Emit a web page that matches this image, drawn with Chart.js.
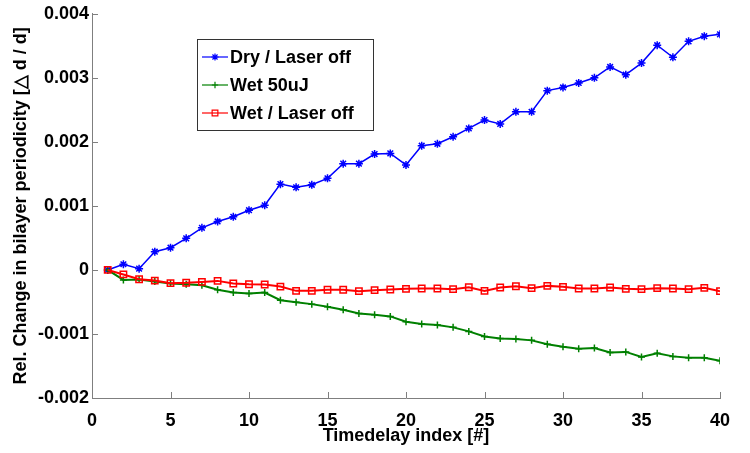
<!DOCTYPE html>
<html lang="en">
<head>
    <meta charset="UTF-8">
    <title>Bilayer periodicity</title>
    <style>
        body{
            margin: 0;
            background-color: #fff;
        }
        .wrap{
            width: 750px;
            height: 453px;
        }
    </style>
</head>
<body>
    <div class="wrap">
        <canvas id="chart" width="750" height="453"></canvas>
    </div>

    <script src="https://cdn.jsdelivr.net/npm/chart.js"></script>

    <script>
        // Timedelay index
        const timedelay = [1, 2, 3, 4, 5, 6, 7, 8, 9, 10, 11, 12, 13, 14, 15, 16, 17, 18, 19, 20,
                           21, 22, 23, 24, 25, 26, 27, 28, 29, 30, 31, 32, 33, 34, 35, 36, 37, 38, 39, 40];

        const dryLaserOff = [0, 0.000089, 0.00002, 0.000285, 0.000347, 0.000493, 0.000658, 0.000757, 0.00083, 0.000933,
                             0.00101, 0.00134, 0.00129, 0.00133, 0.00143, 0.00166, 0.00166, 0.00181, 0.00182, 0.00164,
                             0.00194, 0.00197, 0.00208, 0.00221, 0.00234, 0.00228, 0.00247, 0.00247, 0.0028, 0.00285,
                             0.00292, 0.003, 0.00317, 0.00305, 0.00323, 0.00351, 0.00332, 0.00357, 0.00365, 0.00368];

        const wet50uJ = [0, -0.000156, -0.00015, -0.00018, -0.000212, -0.000223, -0.000238, -0.00031, -0.000353, -0.000368,
                         -0.000353, -0.000472, -0.000503, -0.000534, -0.000575, -0.000622, -0.00068, -0.0007, -0.000726, -0.00081,
                         -0.000845, -0.00086, -0.000897, -0.00096, -0.00104, -0.00107, -0.00108, -0.0011, -0.00116, -0.0012,
                         -0.00123, -0.00122, -0.00129, -0.00128, -0.00136, -0.0013, -0.00135, -0.00137, -0.00137, -0.00142];

        const wetLaserOff = [0, -0.00007, -0.000145, -0.000166, -0.000207, -0.0002, -0.000187, -0.000171, -0.000212, -0.000223,
                             -0.000228, -0.00026, -0.000327, -0.000327, -0.00031, -0.00031, -0.000332, -0.000316, -0.000306, -0.000295,
                             -0.00029, -0.00029, -0.0003, -0.00027, -0.000327, -0.000275, -0.000254, -0.000285, -0.000249, -0.000264,
                             -0.00029, -0.00029, -0.000275, -0.000295, -0.0003, -0.000285, -0.00029, -0.0003, -0.00028, -0.000332];

        const seriesNames = ['Dry / Laser off', 'Wet 50uJ', 'Wet / Laser off'];

        const FONT = 'Liberation Sans, Arial, Helvetica, sans-serif';
        const AXIS_GREY = '#7f7f7f';

        function pts(values) {
            return timedelay.map((t, i) => ({ x: t, y: values[i] }));
        }

        // ticks pointing into the plot, like the original figure
        const innerTicks = {
            id: 'innerTicks',
            afterDraw(chart) {
                const ctx = chart.ctx;
                const area = chart.chartArea;
                const len = 6;
                ctx.save();
                ctx.strokeStyle = AXIS_GREY;
                ctx.lineWidth = 1;
                ctx.beginPath();
                chart.scales.x.ticks.forEach(t => {
                    const px = Math.round(chart.scales.x.getPixelForValue(t.value)) + 0.5;
                    ctx.moveTo(px, area.bottom);
                    ctx.lineTo(px, area.bottom - len);
                });
                chart.scales.y.ticks.forEach(t => {
                    const py = Math.round(chart.scales.y.getPixelForValue(t.value)) + 0.5;
                    ctx.moveTo(area.left, py);
                    ctx.lineTo(area.left + len, py);
                });
                ctx.stroke();
                ctx.restore();
            }
        };

        // boxed legend inside the plot area
        const boxLegend = {
            id: 'boxLegend',
            afterDraw(chart) {
                const ctx = chart.ctx;
                const x0 = 197, y0 = 39, w = 176, h = 91;
                ctx.save();
                ctx.fillStyle = '#fff';
                ctx.fillRect(x0, y0, w, h);
                ctx.strokeStyle = '#333';
                ctx.lineWidth = 1;
                ctx.strokeRect(x0 + 0.5, y0 + 0.5, w, h);
                ctx.font = 'bold 18px ' + FONT;
                ctx.textBaseline = 'middle';
                chart.data.datasets.forEach((ds, i) => {
                    const y = y0 + 18 + i * 28;
                    ctx.strokeStyle = ds.borderColor;
                    ctx.lineWidth = 1.2;
                    ctx.beginPath();
                    ctx.moveTo(x0 + 5, y);
                    ctx.lineTo(x0 + 31, y);
                    ctx.stroke();
                    ctx.fillStyle = 'rgba(0,0,0,0)';
                    Chart.helpers.drawPoint(ctx, {
                        pointStyle: ds.pointStyle,
                        radius: ds.pointRadius * 0.9,
                        borderWidth: 1
                    }, x0 + 18, y);
                    ctx.fillStyle = '#000';
                    ctx.fillText(ds.label, x0 + 33, y + 1);
                });
                ctx.restore();
            }
        };

        const ctx = document.getElementById('chart').getContext('2d');

        const chart = new Chart(ctx, {
            type: 'line',
            data: {
                datasets: [{
                    label: seriesNames[0],
                    data: pts(dryLaserOff),
                    borderColor: '#0000ff',
                    backgroundColor: '#0000ff',
                    borderWidth: 1.5,
                    pointStyle: 'star',
                    pointRadius: 4,
                    pointBorderWidth: 1.5,
                    order: 2
                }, {
                    label: seriesNames[1],
                    data: pts(wet50uJ),
                    borderColor: '#008000',
                    backgroundColor: '#008000',
                    borderWidth: 2,
                    pointStyle: 'cross',
                    pointRadius: 3.5,
                    pointBorderWidth: 1.5,
                    order: 1
                }, {
                    label: seriesNames[2],
                    data: pts(wetLaserOff),
                    borderColor: '#ff0000',
                    backgroundColor: 'rgba(0,0,0,0)',
                    borderWidth: 2,
                    pointStyle: 'rect',
                    pointRadius: 4.5,
                    pointBorderWidth: 1.5,
                    order: 0
                }]
            },
            options: {
                responsive: false,
                animation: false,
                layout: {
                    padding: { left: 0, top: 12, right: 30, bottom: 0 }
                },
                plugins: {
                    legend: { display: false },
                    tooltip: { enabled: false }
                },
                elements: {
                    line: { tension: 0 }
                },
                scales: {
                    x: {
                        type: 'linear',
                        min: 0,
                        max: 40,
                        grid: { display: false, drawTicks: false },
                        border: { display: true, color: AXIS_GREY, width: 1 },
                        ticks: {
                            stepSize: 5,
                            padding: 12,
                            color: '#000',
                            font: { family: FONT, size: 18, weight: 'bold' },
                            maxRotation: 0
                        },
                        title: {
                            display: true,
                            text: 'Timedelay index [#]',
                            color: '#000',
                            font: { family: FONT, size: 18, weight: 'bold' },
                            padding: { top: 0, bottom: 6 }
                        },
                        afterFit(scale) { scale.height = 55; }
                    },
                    y: {
                        min: -0.002,
                        max: 0.004,
                        grid: { display: false, drawTicks: false },
                        border: { display: true, color: AXIS_GREY, width: 1 },
                        ticks: {
                            stepSize: 0.001,
                            padding: 3,
                            color: '#000',
                            font: { family: FONT, size: 18, weight: 'bold' },
                            callback: v => Math.abs(v) < 1e-9 ? '0' : v.toFixed(3)
                        },
                        title: {
                            display: true,
                            text: 'Rel. Change in bilayer periodicity [\u25B3 d / d]',
                            color: '#000',
                            font: { family: FONT, size: 18, weight: 'bold' },
                            padding: { top: 10, bottom: 0 }
                        },
                        afterFit(scale) { scale.width = 92; }
                    }
                }
            },
            plugins: [innerTicks, boxLegend]
        });
    </script>
</body>
</html>
